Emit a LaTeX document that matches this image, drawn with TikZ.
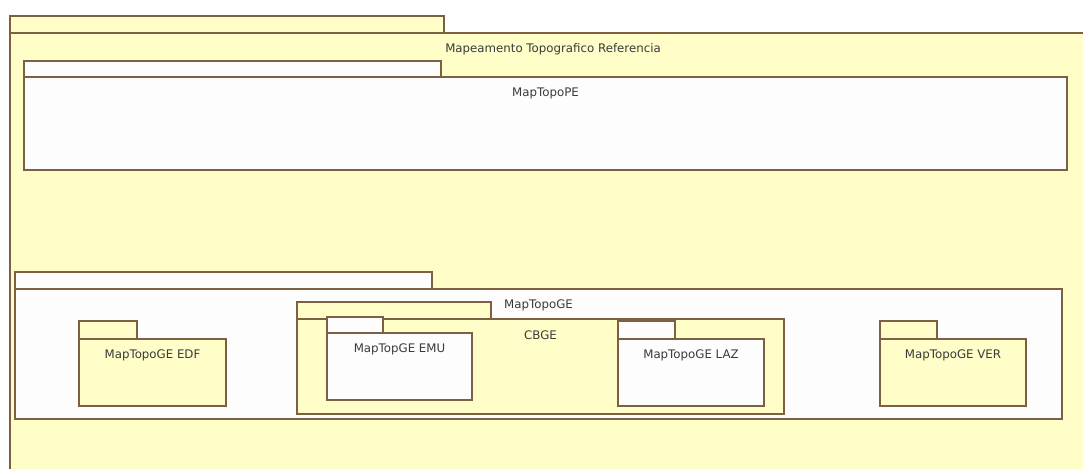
\documentclass[tikz,border=0pt]{standalone}
\usepackage{fontspec}
\setmainfont{DejaVu Sans}
\usetikzlibrary{calc}
\definecolor{pkgyellow}{RGB}{255,253,200}
\definecolor{pkgwhite}{RGB}{253,253,253}
\definecolor{pkgline}{RGB}{125,95,65}
\definecolor{pkgtext}{RGB}{58,58,58}
\tikzset{
  pkgshape/.style={draw=pkgline, line width=1.8pt, inner sep=0pt, outer sep=0pt, rectangle},
  pkglabel/.style={inner sep=0pt, text=pkgtext, font=\fontsize{11.8}{14}\selectfont}
}
% name, x1, ytabtop, xtabright, ybodytop, x2, y2, fill, text
\newcommand\pkgdraw[9]{%
  \node[pkgshape, fill=#8, minimum width={#4-#2}, minimum height={#5-#3}, anchor=south west] (#1tab) at (#2,#5) {};
  \node[pkgshape, fill=#8, minimum width={#6-#2}, minimum height={#7-#5}, anchor=north west] (#1) at (#2,#5) {};
  \node[pkglabel, anchor=center] (#1label) at ($(#1.north)+(0,16)$) {#9};
}
\begin{document}
\begin{tikzpicture}[x=1pt, y=-1pt]
\useasboundingbox (0,0) rectangle (1083,468);
\fill[white] (0,0) rectangle (1083,468);
\clip (0,0) rectangle (1083,468);
\pkgdraw{outer}{10}{16}{444}{33}{1096}{500}{pkgyellow}{Mapeamento Topografico Referencia}
\pkgdraw{pe}{24}{61}{441}{77}{1067}{170}{pkgwhite}{MapTopoPE}
\pkgdraw{ge}{15}{272}{432}{289}{1062}{419}{pkgwhite}{MapTopoGE}
\pkgdraw{cbge}{297}{302}{491}{319}{784}{414}{pkgyellow}{CBGE}
\pkgdraw{emu}{327}{317}{383}{333}{472}{400}{pkgwhite}{MapTopGE EMU}
\pkgdraw{laz}{618}{321}{675}{339}{764}{406}{pkgwhite}{MapTopoGE LAZ}
\pkgdraw{edf}{79}{321}{137}{339}{226}{406}{pkgyellow}{MapTopoGE EDF}
\pkgdraw{ver}{880}{321}{937}{339}{1026}{406}{pkgyellow}{MapTopoGE VER}
\end{tikzpicture}
\end{document}
